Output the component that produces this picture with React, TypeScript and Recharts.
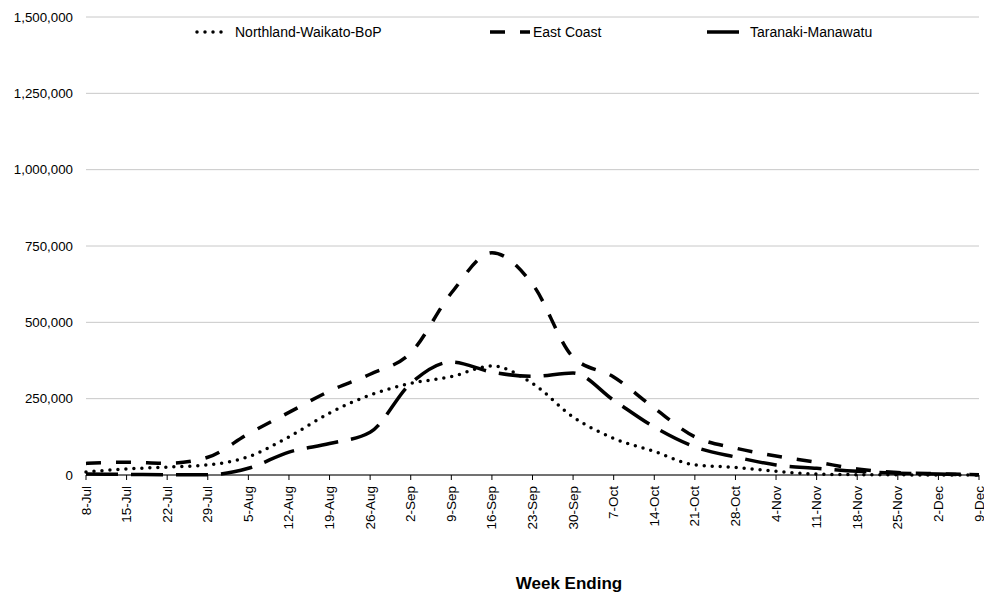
import { LineChart, Line, XAxis, YAxis, CartesianGrid, Legend, Label } from "recharts";

const weeks = [
  "8-Jul", "15-Jul", "22-Jul", "29-Jul", "5-Aug", "12-Aug", "19-Aug", "26-Aug",
  "2-Sep", "9-Sep", "16-Sep", "23-Sep", "30-Sep", "7-Oct", "14-Oct", "21-Oct",
  "28-Oct", "4-Nov", "11-Nov", "18-Nov", "25-Nov", "2-Dec", "9-Dec",
];

const northland = [
  10000, 20000, 26000, 33000, 60000, 125000, 203000, 262000, 300000, 322000,
  357000, 300000, 190000, 120000, 77000, 33000, 25000, 12000, 3000, 1000, 500, 0, 0,
];

const eastCoast = [
  38000, 42000, 38000, 58000, 135000, 205000, 275000, 330000, 400000, 596000,
  728000, 625000, 386000, 321000, 219000, 125000, 88000, 62000, 42000, 20000, 8000, 4000, 1000,
];

const taranaki = [
  3000, 2000, 1000, 1000, 22000, 75000, 103000, 140000, 300000, 370000,
  337000, 323000, 334000, 245000, 157000, 92000, 59000, 33000, 22000, 12000, 6000, 3000, 1000,
];

const yTicks = [0, 250000, 500000, 750000, 1000000, 1250000, 1500000];

const series = [
  { key: "north", name: "Northland-Waikato-BoP", values: northland, dash: "0 8", width: 3.5, cap: "round" as const },
  { key: "east", name: "East Coast", values: eastCoast, dash: "15 15", width: 3.5, cap: "butt" as const },
  { key: "tara", name: "Taranaki-Manawatu", values: taranaki, dash: "32 13", width: 3.5, cap: "butt" as const },
];

const data = weeks.map((w, i) => ({
  week: w,
  north: northland[i],
  east: eastCoast[i],
  tara: taranaki[i],
}));

const FONT = "'Liberation Sans', Arial, sans-serif";

// legend sits in a single row near the top, items spread out like the original
const legendSpots = [
  { sx: 195, sw: 30, tx: 235 },
  { sx: 490, sw: 40, tx: 533 },
  { sx: 707, sw: 34, tx: 750 },
];

const renderLegend = () => (
  <svg width={984} height={20} style={{ display: "block" }}>
    {series.map((s, i) => {
      const p = legendSpots[i];
      return (
        <g key={s.key}>
          <line
            x1={p.sx + (s.cap === "round" ? 2 : 0)}
            x2={p.sx + p.sw}
            y1={10}
            y2={10}
            stroke="#000"
            strokeWidth={s.width}
            strokeDasharray={s.dash}
            strokeLinecap={s.cap}
          />
          <text x={p.tx} y={10} dominantBaseline="central" fontSize={14} fontFamily={FONT} fill="#000">
            {s.name}
          </text>
        </g>
      );
    })}
  </svg>
);

const WeekTick = ({ x, y, payload }: any) => (
  <text
    x={x}
    y={y + 4}
    transform={`rotate(-90, ${x}, ${y + 4})`}
    textAnchor="end"
    dominantBaseline="central"
    fontSize={13.5}
    fontFamily={FONT}
    fill="#000"
  >
    {payload.value}
  </text>
);

export default function App() {
  return (
    <div style={{ position: "absolute", left: 0, top: 0, background: "#fff" }}>
      <LineChart
        width={984}
        height={592}
        data={data}
        margin={{ top: 17, right: 5, left: 0, bottom: 0 }}
      >
        <CartesianGrid vertical={false} stroke="#c8c8c8" strokeWidth={1} />
        <XAxis
          dataKey="week"
          interval={0}
          height={117}
          tick={<WeekTick />}
          tickSize={5}
          tickLine={{ stroke: "#000" }}
          axisLine={{ stroke: "#000", strokeWidth: 1 }}
        >
          <Label
            content={() => (
              <text
                x={569}
                y={583}
                textAnchor="middle"
                dominantBaseline="central"
                fontSize={17}
                fontWeight="bold"
                fontFamily={FONT}
                fill="#000"
              >
                Week Ending
              </text>
            )}
          />
        </XAxis>
        <YAxis
          width={86}
          domain={[0, 1500000]}
          ticks={yTicks}
          interval={0}
          axisLine={false}
          tickLine={false}
          tickSize={0}
          tickMargin={13}
          tick={{ fontSize: 13.3, fontFamily: FONT, fill: "#000" }}
          tickFormatter={(v: number) => v.toLocaleString("en-US")}
        />
        <Legend
          verticalAlign="middle"
          layout="horizontal"
          content={renderLegend}
          wrapperStyle={{ position: "absolute", top: 22, left: 0, width: 984, height: 20 }}
        />
        {series.map((s) => (
          <Line
            key={s.key}
            type="monotone"
            dataKey={s.key}
            name={s.name}
            stroke="#000"
            strokeWidth={s.width}
            strokeDasharray={s.dash}
            strokeLinecap={s.cap}
            dot={false}
            activeDot={false}
            isAnimationActive={false}
          />
        ))}
      </LineChart>
    </div>
  );
}
